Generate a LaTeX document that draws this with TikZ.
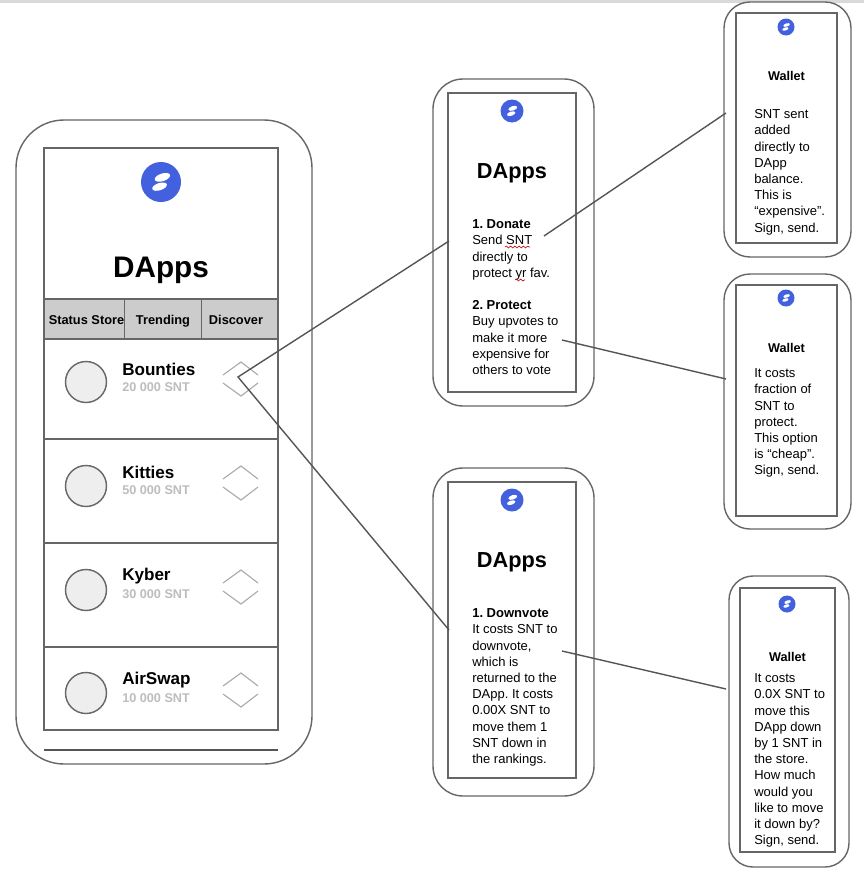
\documentclass[tikz,border=0pt]{standalone}
\usepackage{fontspec}
\setmainfont{Liberation Sans}
\usetikzlibrary{decorations.pathmorphing}
\definecolor{ln}{HTML}{666666}
\definecolor{cn}{HTML}{555555}
\definecolor{chev}{HTML}{ABABAB}
\definecolor{tabg}{HTML}{CCCCCC}
\definecolor{blu}{HTML}{4360DF}
\definecolor{circ}{HTML}{EEEEEE}
\definecolor{subt}{HTML}{BDBDBD}
\tikzset{
  outerbox/.style n args={3}{draw=ln,line width=1.05pt,inner sep=0pt,outer sep=0pt,fill=white,
    rounded corners=#3*0.75pt,minimum width=#1*0.75pt,minimum height=#2*0.75pt},
  screen/.style 2 args={draw=ln,line width=1.05pt,inner sep=0pt,outer sep=0pt,fill=white,
    minimum width=#1*0.75pt,minimum height=#2*0.75pt},
  tabcell/.style 2 args={draw=ln,line width=1.05pt,inner sep=0pt,outer sep=0pt,fill=tabg,
    minimum width=#1*0.75pt,minimum height=#2*0.75pt},
  tablabel/.style={inner sep=0pt,text height=7pt,text depth=2pt,font=\fontsize{9.6pt}{11pt}\selectfont\bfseries},
  avatar/.style={circle,draw=ln,line width=1.05pt,fill=circ,inner sep=0pt,outer sep=0pt,minimum size=41*0.75pt},
  logodisc/.style={circle,fill=blu,inner sep=0pt,outer sep=0pt,minimum size=#1*0.75pt},
  link/.style={draw=cn,line width=1.05pt},
  chevron/.style={draw=chev,line width=0.85pt},
  bigtitle/.style={inner sep=0pt,font=\fontsize{22.3pt}{26pt}\selectfont\bfseries},
  midtitle/.style={inner sep=0pt,font=\fontsize{16.3pt}{20pt}\selectfont\bfseries},
  wallettitle/.style={inner sep=0pt,font=\fontsize{9.5pt}{11pt}\selectfont\bfseries},
  body/.style={inner sep=0pt,anchor=north west,align=left,font=\fontsize{9.75pt}{12.15pt}\selectfont\frenchspacing},
  appname/.style={inner sep=0pt,anchor=west,font=\fontsize{12.8pt}{15pt}\selectfont\bfseries},
  appsnt/.style={inner sep=0pt,anchor=west,text=subt,font=\fontsize{9.5pt}{11pt}\selectfont\bfseries},
  squiggle/.style={draw=red!75!black,line width=0.45pt,decorate,decoration={snake,amplitude=0.7pt,segment length=3.2pt}},
}
\newcommand{\firstline}{\rule{0pt}{9pt}}
\newcommand{\chevs}[1]{%
  \draw[chevron] (223,#1+13) -- (241,#1) -- (258,#1+13);
  \draw[chevron] (223,#1+21) -- (241,#1+34) -- (258,#1+21);}
\begin{document}
\begin{tikzpicture}[x=0.75pt,y=-0.75pt]
\useasboundingbox (0,0) rectangle (864,878);
\fill[white] (0,0) rectangle (864,878);
\fill[gray!30] (0,0) rectangle (864,3);
% main phone
\node[outerbox={296}{644}{48}] (mainphone) at (164,442) {};
\node[screen={234}{582}] (mainscreen) at (161,439) {};
\draw[link] (44,750) coordinate (homeL) -- (278,750) coordinate (homeR);
\node[bigtitle] (maintitle) at (161,270) {DApps};
\node[tabcell={80.5}{40}] (tab1) at (84.2,319) {};
\node[tabcell={77}{40}] (tab2) at (163,319) {};
\node[tabcell={76.5}{40}] (tab3) at (239.7,319) {};
\node[tablabel] (tabt1) at (86.5,321) {Status Store};
\node[tablabel] (tabt2) at (163,321) {Trending};
\node[tablabel] (tabt3) at (236,321) {Discover};
\node[screen={234}{100}] (row1) at (161,389) {};
\node[screen={234}{104}] (row2) at (161,491) {};
\node[screen={234}{104}] (row3) at (161,595) {};
\node[screen={234}{83}] (row4) at (161,688.5) {};
\node[avatar] (av1) at (86,382) {};
\node[avatar] (av2) at (86,486) {};
\node[avatar] (av3) at (86,590) {};
\node[avatar] (av4) at (86,693) {};
\node[appname] (n1) at (122,369.5) {Bounties};
\node[appname] (n2) at (122,472.5) {Kitties};
\node[appname] (n3) at (122,576.5) {Kyber};
\node[appname] (n4) at (122,680.5) {AirSwap};
\node[appsnt] (s1) at (122,387.5) {20 000 SNT};
\node[appsnt] (s2) at (122,490.5) {50 000 SNT};
\node[appsnt] (s3) at (122,594.5) {30 000 SNT};
\node[appsnt] (s4) at (122,698.5) {10 000 SNT};
\chevs{362}
\chevs{466}
\chevs{570}
\chevs{673}
% middle phones
\node[outerbox={161}{327}{30}] (phoneA) at (513.5,242.5) {};
\node[screen={128}{299}] (screenA) at (512,242.5) {};
\node[outerbox={161}{328}{30}] (phoneB) at (513.5,632) {};
\node[screen={128}{296}] (screenB) at (512,630) {};
% right phones
\node[outerbox={127}{255}{26}] (phoneC) at (787.5,129.5) {};
\node[screen={101}{230}] (screenC) at (786.5,128) {};
\node[outerbox={127}{255}{26}] (phoneD) at (787.5,401.5) {};
\node[screen={101}{231}] (screenD) at (786.5,400.5) {};
\node[outerbox={120}{291}{24}] (phoneE) at (789,721.5) {};
\node[screen={95}{264}] (screenE) at (787.5,720) {};
% logos
\foreach \nm/\cx/\cy/\rr in {mainlogo/161/182/20,logoA/512/111/11.5,logoB/512/500/11.5,logoC/786/27/8.5,logoD/786/298/8.5,logoE/787/604/8.5}{
  \node[logodisc=2*\rr] (\nm) at (\cx,\cy) {};
  \begin{scope}[shift={(\cx,\cy)},x=\rr*0.75pt,y=\rr*0.75pt]
    \fill[white,rotate=18] (0.14,0.20) ellipse (0.40 and 0.19);
    \fill[white,rotate=18] (-0.14,-0.20) ellipse (0.38 and 0.18);
  \end{scope}
}
% titles
\node[midtitle] (titleA) at (512,173.5) {DApps};
\node[midtitle] (titleB) at (512,562.5) {DApps};
\node[wallettitle] (titleC) at (786.5,75.5) {Wallet};
\node[wallettitle] (titleD) at (786.5,347.5) {Wallet};
\node[wallettitle] (titleE) at (787.5,656.5) {Wallet};
% bodies
\node[body] (bodyA) at (472,216.5) {\firstline\textbf{1. Donate}\\Send SNT\\directly to\\protect yr fav.\\[12.15pt]\textbf{2. Protect}\\Buy upvotes to\\make it more\\expensive for\\others to vote};
\node[body] (bodyB) at (472,605.5) {\firstline\textbf{1. Downvote}\\It costs SNT to\\downvote,\\which is\\returned to the\\DApp. It costs\\0.00X SNT to\\move them 1\\SNT down in\\the rankings.};
\node[body] (bodyC) at (754,106.5) {\firstline SNT sent\\added\\directly to\\DApp\\balance.\\This is\\“expensive”.\\Sign, send.};
\node[body] (bodyD) at (754,365.5) {\firstline It costs\\fraction of\\SNT to\\protect.\\This option\\is “cheap”.\\Sign, send.};
\node[body] (bodyE) at (754,670.5) {\firstline It costs\\0.0X SNT to\\move this\\DApp down\\by 1 SNT in\\the store.\\How much\\would you\\like to move\\it down by?\\Sign, send.};
% spell-check marks
\draw[squiggle] (505,247) coordinate (sq1) -- (530,247) coordinate (sq2);
\draw[squiggle] (515,280) coordinate (sq3) -- (525,280) coordinate (sq4);
% connectors
\coordinate (voteHub) at (238,377);
\coordinate (aIn) at (449,241);
\coordinate (bIn) at (449,630);
\coordinate (aOut1) at (544,236);
\coordinate (aOut2) at (562,340);
\coordinate (bOut) at (562,651);
\coordinate (cIn) at (726,113);
\coordinate (dIn) at (726,379);
\coordinate (eIn) at (726,689);
\draw[link] (aIn) -- (voteHub) -- (bIn);
\draw[link] (aOut1) -- (cIn);
\draw[link] (aOut2) -- (dIn);
\draw[link] (bOut) -- (eIn);
\end{tikzpicture}
\end{document}
